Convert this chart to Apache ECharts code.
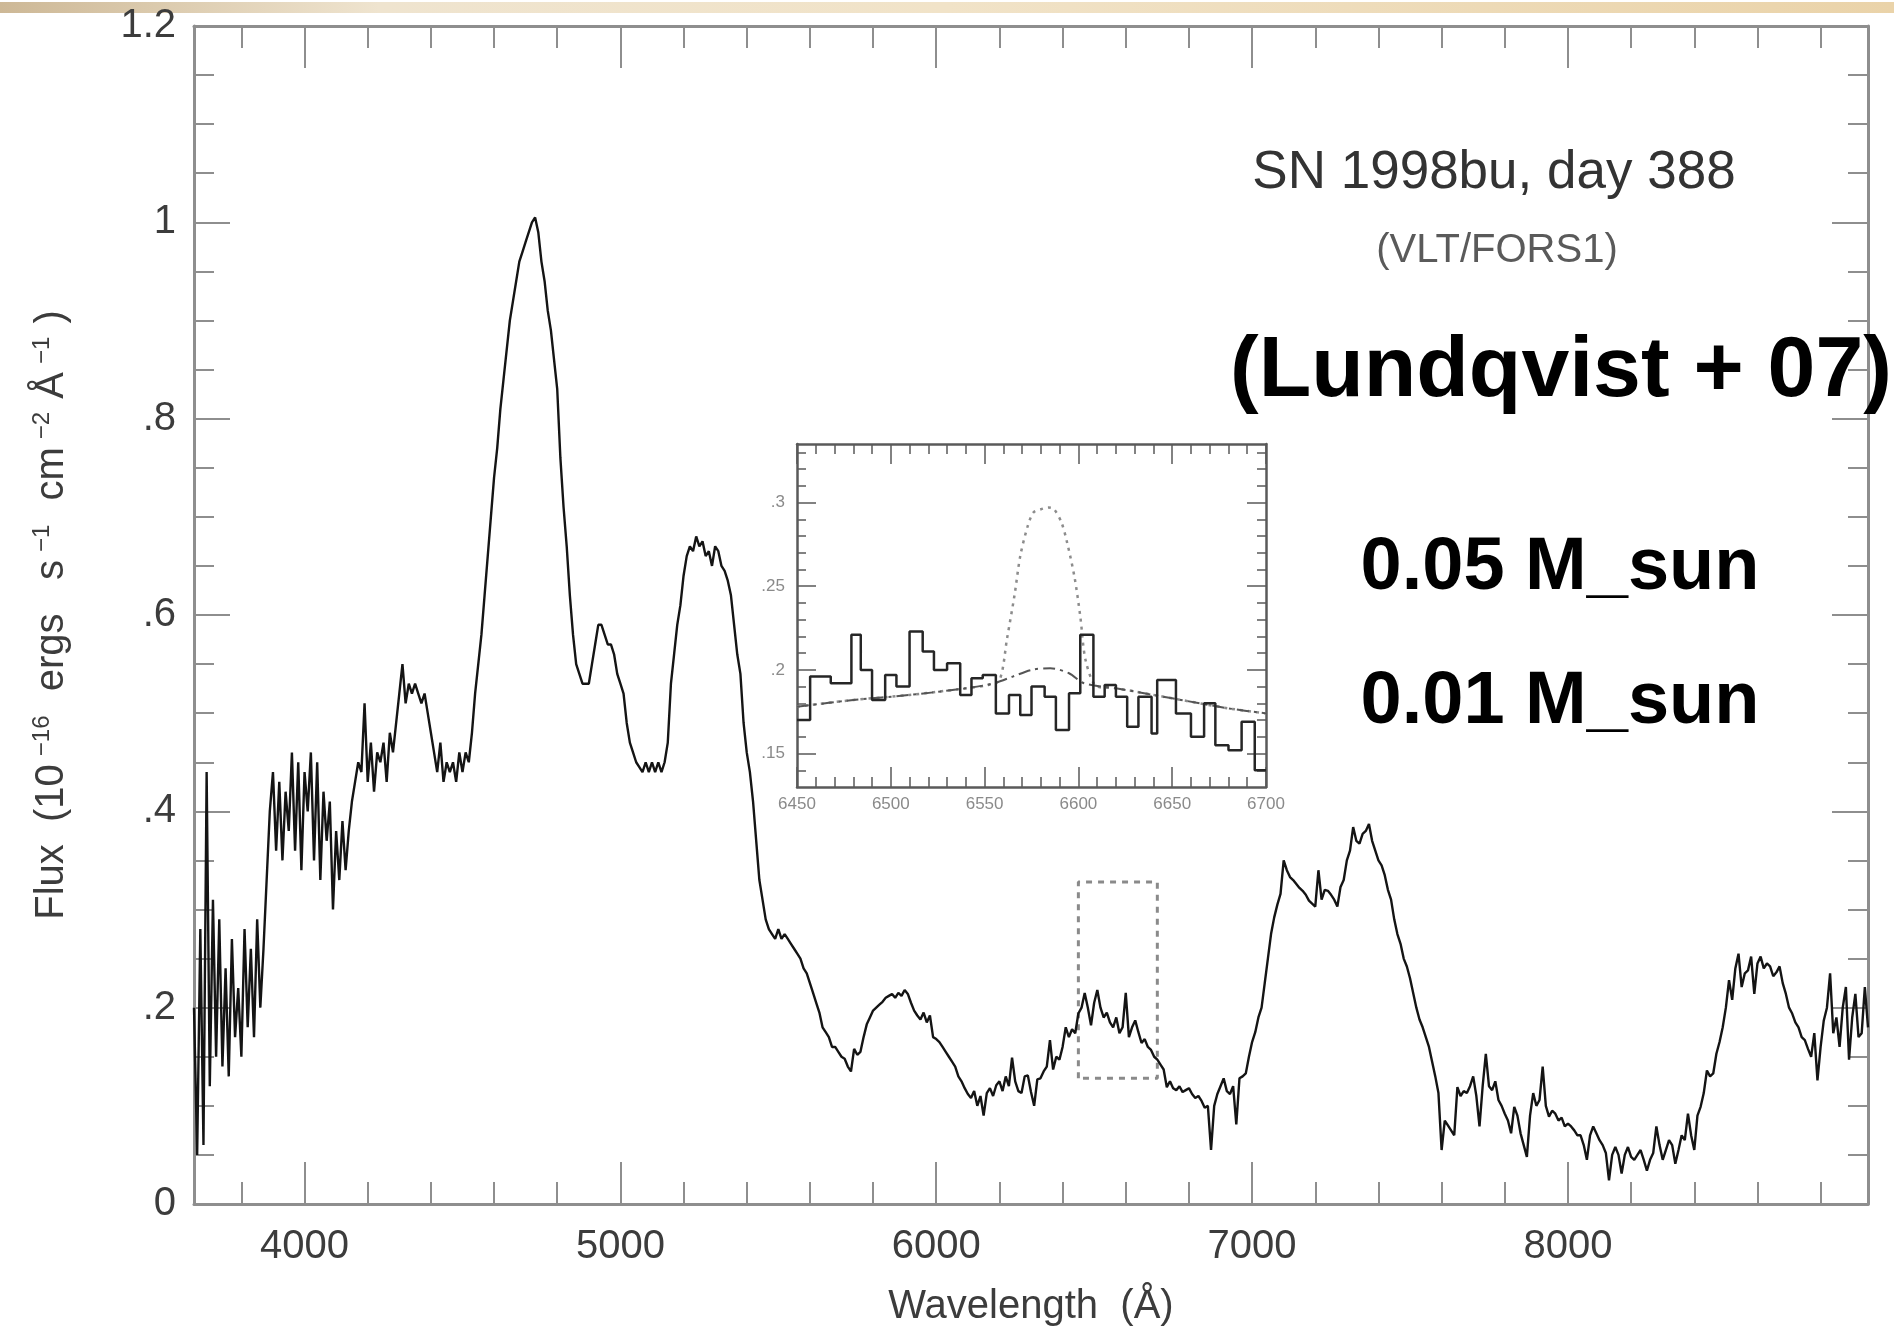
<!DOCTYPE html>
<html>
<head>
<meta charset="utf-8">
<title>SN 1998bu, day 388</title>
<script src="https://cdn.jsdelivr.net/npm/echarts@6/dist/echarts.min.js"></script>
<style>
  html, body { margin: 0; padding: 0; background: #ffffff; }
  #chart { width: 1894px; height: 1335px; }
</style>
</head>
<body>
<div id="chart"></div>
<script>
// Nebular spectrum of SN 1998bu, sampled every 10 Å from 3650 Å.
const WL_START = 3650;
const WL_STEP = 10;
const flux = [
  0.20, 0.05, 0.28, 0.06, 0.44, 0.12, 0.31, 0.15, 0.29, 0.14,      // 3650
  0.24, 0.13, 0.27, 0.17, 0.22, 0.15, 0.28, 0.18, 0.26, 0.17,      // 3750
  0.29, 0.20, 0.26, 0.33, 0.40, 0.44, 0.36, 0.43, 0.35, 0.42,      // 3850
  0.38, 0.46, 0.36, 0.45, 0.34, 0.44, 0.40, 0.46, 0.35, 0.45,      // 3950
  0.33, 0.42, 0.37, 0.41, 0.30, 0.38, 0.33, 0.39, 0.34, 0.38,      // 4050
  0.41, 0.43, 0.45, 0.44, 0.51, 0.43, 0.47, 0.42, 0.46, 0.45,      // 4150
  0.47, 0.43, 0.48, 0.46, 0.49, 0.52, 0.55, 0.51, 0.53, 0.52,      // 4250
  0.53, 0.52, 0.51, 0.52, 0.50, 0.48, 0.46, 0.44, 0.47, 0.43,      // 4350
  0.45, 0.44, 0.45, 0.43, 0.46, 0.44, 0.46, 0.45, 0.48, 0.52,      // 4450
  0.55, 0.58, 0.62, 0.66, 0.70, 0.74, 0.77, 0.81, 0.84, 0.87,      // 4550
  0.90, 0.92, 0.94, 0.96, 0.97, 0.98, 0.99, 1.00, 1.005, 0.99,     // 4650
  0.96, 0.94, 0.91, 0.89, 0.86, 0.83, 0.76, 0.71, 0.67, 0.62,      // 4750
  0.58, 0.55, 0.54, 0.53, 0.53, 0.53, 0.55, 0.57, 0.59, 0.59,      // 4850
  0.58, 0.57, 0.57, 0.56, 0.54, 0.53, 0.52, 0.49, 0.47, 0.46,      // 4950
  0.45, 0.445, 0.44, 0.45, 0.44, 0.45, 0.44, 0.45, 0.44, 0.45,     // 5050
  0.47, 0.53, 0.56, 0.59, 0.61, 0.64, 0.66, 0.67, 0.665, 0.68,     // 5150
  0.67, 0.675, 0.66, 0.665, 0.65, 0.67, 0.665, 0.65, 0.645, 0.635, // 5250
  0.62, 0.59, 0.56, 0.54, 0.49, 0.46, 0.44, 0.41, 0.37, 0.33,      // 5350
  0.31, 0.29, 0.28, 0.275, 0.27, 0.28, 0.27, 0.275, 0.27, 0.265,   // 5450
  0.26, 0.255, 0.25, 0.24, 0.235, 0.225, 0.215, 0.205, 0.195, 0.18, // 5550
  0.175, 0.17, 0.16, 0.16, 0.155, 0.15, 0.148, 0.14, 0.135, 0.158, // 5650
  0.152, 0.155, 0.17, 0.183, 0.19, 0.197, 0.20, 0.203, 0.206, 0.21, // 5750
  0.212, 0.214, 0.21, 0.215, 0.212, 0.218, 0.214, 0.205, 0.197, 0.192, // 5850
  0.188, 0.195, 0.185, 0.192, 0.17, 0.168, 0.165, 0.16, 0.155, 0.15,   // 5950
  0.145, 0.14, 0.13, 0.125, 0.118, 0.112, 0.108, 0.115, 0.10, 0.11,    // 6050
  0.09, 0.113, 0.118, 0.11, 0.121, 0.125, 0.115, 0.13, 0.12, 0.149,    // 6150
  0.125, 0.115, 0.113, 0.13, 0.131, 0.114, 0.10, 0.127, 0.128, 0.135,  // 6250
  0.14, 0.167, 0.137, 0.15, 0.147, 0.16, 0.18, 0.17, 0.178, 0.174,     // 6350
  0.194, 0.20, 0.215, 0.20, 0.182, 0.205, 0.218, 0.20, 0.19, 0.195,    // 6450
  0.185, 0.18, 0.19, 0.174, 0.18, 0.215, 0.17, 0.18, 0.187, 0.175,     // 6550
  0.164, 0.168, 0.16, 0.157, 0.15, 0.147, 0.142, 0.137, 0.119, 0.125, // 6650
  0.118, 0.116, 0.12, 0.114, 0.116, 0.118, 0.112, 0.108, 0.11, 0.105, // 6750
  0.098, 0.10, 0.055, 0.10, 0.112, 0.12, 0.128, 0.115, 0.112, 0.12,   // 6850
  0.081, 0.128, 0.13, 0.133, 0.15, 0.165, 0.175, 0.19, 0.20, 0.225,   // 6950
  0.25, 0.275, 0.292, 0.305, 0.316, 0.35, 0.34, 0.333, 0.33, 0.326,   // 7050
  0.322, 0.319, 0.315, 0.309, 0.306, 0.303, 0.34, 0.31, 0.32, 0.319,  // 7150
  0.315, 0.31, 0.303, 0.323, 0.33, 0.35, 0.36, 0.384, 0.37, 0.367,    // 7250
  0.377, 0.38, 0.387, 0.37, 0.36, 0.35, 0.345, 0.335, 0.32, 0.31,     // 7350
  0.29, 0.275, 0.265, 0.25, 0.242, 0.23, 0.215, 0.20, 0.188, 0.18,    // 7450
  0.17, 0.16, 0.145, 0.13, 0.113, 0.055, 0.085, 0.08, 0.075, 0.07,    // 7550
  0.119, 0.11, 0.115, 0.113, 0.12, 0.13, 0.11, 0.079, 0.12, 0.153,    // 7650
  0.12, 0.116, 0.125, 0.106, 0.10, 0.092, 0.085, 0.072, 0.099, 0.09,  // 7750
  0.072, 0.06, 0.048, 0.09, 0.113, 0.10, 0.106, 0.14, 0.10, 0.089,    // 7850
  0.095, 0.092, 0.085, 0.088, 0.079, 0.082, 0.079, 0.075, 0.07, 0.07, // 7950
  0.06, 0.045, 0.07, 0.079, 0.072, 0.065, 0.06, 0.052, 0.024, 0.05,   // 8050
  0.058, 0.05, 0.031, 0.05, 0.058, 0.048, 0.045, 0.05, 0.055, 0.045,  // 8150
  0.034, 0.045, 0.052, 0.079, 0.06, 0.045, 0.055, 0.065, 0.06, 0.041, // 8250
  0.055, 0.07, 0.065, 0.092, 0.07, 0.055, 0.09, 0.099, 0.113, 0.136,  // 8350
  0.13, 0.133, 0.153, 0.165, 0.18, 0.20, 0.228, 0.208, 0.24, 0.255,   // 8450
  0.221, 0.235, 0.238, 0.252, 0.214, 0.245, 0.252, 0.24, 0.245, 0.242, // 8550
  0.232, 0.236, 0.242, 0.225, 0.214, 0.20, 0.194, 0.185, 0.18, 0.17,  // 8650
  0.167, 0.158, 0.15, 0.174, 0.126, 0.16, 0.187, 0.20, 0.235, 0.174,  // 8750
  0.19, 0.16, 0.20, 0.221, 0.147, 0.19, 0.214, 0.17, 0.174, 0.221, 0.18 // 8850
];

// Region enlarged in the inset (dashed box on the main panel).
const boxWl = [6450, 6700];
const boxFlux = [0.128, 0.328];

// Inset: binned observed spectrum around H-alpha (bin edges and levels).
const insetEdges = [6450, 6457, 6468, 6479, 6484, 6490, 6497, 6503, 6510, 6517,
  6523, 6530, 6537, 6543, 6549, 6556, 6563, 6569, 6575, 6582, 6588, 6595, 6601,
  6608, 6614, 6620, 6626, 6632, 6639, 6642, 6652, 6660, 6667, 6673, 6680, 6687,
  6694, 6700];
const insetLevels = [0.170, 0.196, 0.192, 0.221, 0.200, 0.182, 0.197, 0.190,
  0.223, 0.211, 0.200, 0.204, 0.185, 0.195, 0.197, 0.174, 0.185, 0.173, 0.190,
  0.184, 0.164, 0.186, 0.221, 0.184, 0.191, 0.184, 0.166, 0.184, 0.162, 0.194,
  0.174, 0.160, 0.180, 0.155, 0.152, 0.169, 0.140];

// Model H-alpha profiles for 0.01 and 0.05 solar masses of hydrogen.
const modelLowWl = [6450, 6480, 6510, 6540, 6555, 6565, 6575, 6585, 6595, 6603, 6620, 6650, 6680, 6700];
const modelLow = [0.178, 0.182, 0.185, 0.189, 0.192, 0.196, 0.200, 0.201, 0.198, 0.192, 0.189, 0.183, 0.177, 0.174];
const modelHighWl = [6450, 6480, 6510, 6540, 6552, 6558, 6562, 6566, 6569, 6573, 6576, 6580,
  6584, 6587, 6591, 6594, 6598, 6601, 6604, 6610, 6620, 6650, 6680, 6700];
const modelHigh = [0.178, 0.182, 0.185, 0.189, 0.191, 0.194, 0.219, 0.245, 0.268, 0.286, 0.294, 0.296,
  0.297, 0.296, 0.288, 0.276, 0.255, 0.232, 0.205, 0.190, 0.189, 0.183, 0.177, 0.174];

// Tick positions.
const xMajorTicks = [4000, 5000, 6000, 7000, 8000];
const xMinorTicks = [3800, 4200, 4400, 4600, 4800, 5200, 5400, 5600, 5800, 6200, 6400,
  6600, 6800, 7200, 7400, 7600, 7800, 8200, 8400, 8600, 8800];
const insetYMajor = [0.15, 0.2, 0.25, 0.3];
const insetYMinor = [0.14, 0.16, 0.17, 0.18, 0.19, 0.21, 0.22, 0.23, 0.24, 0.26,
  0.27, 0.28, 0.29, 0.31, 0.32, 0.33];

const FONT = '"Liberation Sans", Arial, Helvetica, sans-serif';
const AXIS_GRAY = '#8e8e8e';
const INSET_GRAY = '#5a5a5a';
const TEXT_DARK = '#3c3c3c';

const spectrum = flux.map((f, i) => [WL_START + i * WL_STEP, f]);
const boxPath = [
  [boxWl[0], boxFlux[0]], [boxWl[0], boxFlux[1]], [boxWl[1], boxFlux[1]],
  [boxWl[1], boxFlux[0]], [boxWl[0], boxFlux[0]]
];
const histogram = insetLevels.map((v, i) => [insetEdges[i], v]);
histogram.push([insetEdges[insetEdges.length - 1], insetLevels[insetLevels.length - 1]]);

// Tick label formats: plain integers, and decimals without the leading zero.
const plainNumber = v => String(Math.round(v));
const noLeadZero = v => {
  if (v === 0) return '0';
  const s = String(+v.toFixed(3));
  return s.startsWith('0.') ? s.slice(1) : s;
};

function tickAxis(base, extra) {
  return Object.assign({
    type: 'value',
    splitLine: { show: false },
    minorSplitLine: { show: false },
    axisLabel: { show: false },
    axisLine: { show: false, onZero: false },
  }, base, extra);
}

const mainX = { gridIndex: 0, min: 3650, max: 8950 };
const mainY = { gridIndex: 0, min: 0, max: 1.2 };
const insetX = { gridIndex: 1, min: 6450, max: 6700 };
const insetY = { gridIndex: 1, min: 0.13, max: 0.335 };

const mainLine = { show: true, onZero: false, lineStyle: { color: AXIS_GRAY, width: 3 } };
const mainTick = (len, values) => ({ show: true, inside: true, length: len, customValues: values,
  lineStyle: { color: AXIS_GRAY, width: 2 } });
const insetLine = { show: true, onZero: false, lineStyle: { color: INSET_GRAY, width: 2.5 } };
const insetTickStyle = { color: INSET_GRAY, width: 1.5 };

const option = {
  animation: false,
  backgroundColor: '#ffffff',
  grid: [
    { left: 194, top: 26, width: 1674, height: 1178, containLabel: false },
    { left: 797, top: 444, width: 469, height: 343, containLabel: false,
      show: true, backgroundColor: '#ffffff', borderWidth: 0 }
  ],
  xAxis: [
    tickAxis(mainX, {
      position: 'bottom', axisLine: mainLine, axisTick: mainTick(42, xMajorTicks),
      axisLabel: { show: true, customValues: xMajorTicks, fontSize: 40, color: TEXT_DARK,
        fontFamily: FONT, margin: 23, formatter: plainNumber },
      name: 'Wavelength  (Å)', nameLocation: 'middle', nameGap: 83,
      nameTextStyle: { fontSize: 40, color: TEXT_DARK, fontFamily: FONT }
    }),
    tickAxis(mainX, { position: 'bottom', axisTick: mainTick(22, xMinorTicks) }),
    tickAxis(mainX, { position: 'top', axisLine: mainLine, axisTick: mainTick(42, xMajorTicks) }),
    tickAxis(mainX, { position: 'top', axisTick: mainTick(22, xMinorTicks) }),
    tickAxis(insetX, {
      position: 'bottom', interval: 50, axisLine: insetLine,
      axisTick: { show: true, inside: true, length: 20, lineStyle: insetTickStyle },
      minorTick: { show: true, splitNumber: 5, length: 10, lineStyle: insetTickStyle },
      axisLabel: { show: true, fontSize: 17, color: '#8a8a8a', fontFamily: FONT, margin: 9,
        formatter: plainNumber }
    }),
    tickAxis(insetX, {
      position: 'top', interval: 50, axisLine: insetLine,
      axisTick: { show: true, inside: true, length: 20, lineStyle: insetTickStyle },
      minorTick: { show: true, splitNumber: 5, length: 10, lineStyle: insetTickStyle }
    })
  ],
  yAxis: [
    tickAxis(mainY, {
      position: 'left', interval: 0.2, axisLine: mainLine,
      axisTick: { show: true, inside: true, length: 36, lineStyle: { color: AXIS_GRAY, width: 2 } },
      minorTick: { show: true, splitNumber: 4, length: 20, lineStyle: { color: AXIS_GRAY, width: 2 } },
      axisLabel: { show: true, fontSize: 40, color: TEXT_DARK, fontFamily: FONT, margin: 18,
        formatter: noLeadZero },
      name: '{t|Flux  (10}{s|−16}{t|  ergs   s}{s|−1}{t|  cm}{s|−2}{t| Å}{s|−1}{t| )}',
      nameLocation: 'middle', nameGap: 120,
      nameTextStyle: {
        fontSize: 40, color: TEXT_DARK, fontFamily: FONT,
        rich: {
          t: { fontSize: 40, color: TEXT_DARK, fontFamily: FONT, lineHeight: 44 },
          s: { fontSize: 24, color: TEXT_DARK, fontFamily: FONT, verticalAlign: 'top',
               lineHeight: 26, padding: [0, 2, 0, 8] }
        }
      }
    }),
    tickAxis(mainY, {
      position: 'right', interval: 0.2, axisLine: mainLine,
      axisTick: { show: true, inside: true, length: 36, lineStyle: { color: AXIS_GRAY, width: 2 } },
      minorTick: { show: true, splitNumber: 4, length: 20, lineStyle: { color: AXIS_GRAY, width: 2 } }
    }),
    tickAxis(insetY, {
      position: 'left', axisLine: insetLine,
      axisTick: { show: true, inside: true, length: 19, customValues: insetYMajor, lineStyle: insetTickStyle },
      axisLabel: { show: true, customValues: insetYMajor, fontSize: 17, color: '#8a8a8a',
        fontFamily: FONT, margin: 12, formatter: noLeadZero }
    }),
    tickAxis(insetY, {
      position: 'left',
      axisTick: { show: true, inside: true, length: 9, customValues: insetYMinor, lineStyle: insetTickStyle }
    }),
    tickAxis(insetY, {
      position: 'right', axisLine: insetLine,
      axisTick: { show: true, inside: true, length: 19, customValues: insetYMajor, lineStyle: insetTickStyle }
    }),
    tickAxis(insetY, {
      position: 'right',
      axisTick: { show: true, inside: true, length: 9, customValues: insetYMinor, lineStyle: insetTickStyle }
    })
  ],
  series: [
    {
      name: 'SN 1998bu', type: 'line', xAxisIndex: 0, yAxisIndex: 0,
      data: spectrum, showSymbol: false, symbol: 'none', clip: true,
      lineStyle: { color: '#141414', width: 2.4 }, z: 3
    },
    {
      name: 'zoom region', type: 'line', xAxisIndex: 0, yAxisIndex: 0,
      data: boxPath, showSymbol: false, symbol: 'none',
      lineStyle: { color: '#8a8a8a', width: 3, type: [6, 6] }, z: 2
    },
    {
      name: '0.05 M_sun', type: 'line', xAxisIndex: 4, yAxisIndex: 2,
      data: modelHighWl.map((w, i) => [w, modelHigh[i]]), showSymbol: false, symbol: 'none',
      smooth: 0.3, lineStyle: { color: '#8c8c8c', width: 2.5, type: [3, 5] }, z: 4
    },
    {
      name: '0.01 M_sun', type: 'line', xAxisIndex: 4, yAxisIndex: 2,
      data: modelLowWl.map((w, i) => [w, modelLow[i]]), showSymbol: false, symbol: 'none',
      smooth: 0.3, lineStyle: { color: '#555555', width: 2, type: [12, 5, 3, 5] }, z: 4
    },
    {
      name: 'binned spectrum', type: 'line', xAxisIndex: 4, yAxisIndex: 2,
      data: histogram, step: 'end', showSymbol: false, symbol: 'none',
      lineStyle: { color: '#262626', width: 2.5 }, z: 5
    }
  ],
  graphic: [
    {
      type: 'rect', left: 0, top: 2, z: 0, silent: true,
      shape: { width: 1894, height: 11 },
      style: {
        fill: {
          type: 'linear', x: 0, y: 0, x2: 1, y2: 0,
          colorStops: [
            { offset: 0, color: '#cdb896' },
            { offset: 0.2, color: '#efe4cf' },
            { offset: 0.5, color: '#f1e3c8' },
            { offset: 1, color: '#ead3a9' }
          ]
        }
      }
    },
    {
      type: 'text', x: 1494, y: 173, z: 10,
      style: { text: 'SN 1998bu, day 388', fontSize: 53, fontFamily: FONT, fill: '#333333',
        textAlign: 'center', textVerticalAlign: 'middle', align: 'center', verticalAlign: 'middle' }
    },
    {
      type: 'text', x: 1497, y: 251, z: 10,
      style: { text: '(VLT/FORS1)', fontSize: 40, fontFamily: FONT, fill: '#5a5a5a',
        textAlign: 'center', textVerticalAlign: 'middle', align: 'center', verticalAlign: 'middle' }
    },
    {
      type: 'text', x: 1561, y: 372, z: 10,
      style: { text: '(Lundqvist + 07)', fontSize: 86, fontWeight: 'bold', fontFamily: FONT, fill: '#000000',
        textAlign: 'center', textVerticalAlign: 'middle', align: 'center', verticalAlign: 'middle' }
    },
    {
      type: 'text', x: 1560, y: 569, z: 10,
      style: { text: '0.05 M_sun', fontSize: 74, fontWeight: 'bold', fontFamily: FONT, fill: '#000000',
        textAlign: 'center', textVerticalAlign: 'middle', align: 'center', verticalAlign: 'middle' }
    },
    {
      type: 'text', x: 1560, y: 703, z: 10,
      style: { text: '0.01 M_sun', fontSize: 74, fontWeight: 'bold', fontFamily: FONT, fill: '#000000',
        textAlign: 'center', textVerticalAlign: 'middle', align: 'center', verticalAlign: 'middle' }
    }
  ]
};

const chart = echarts.init(document.getElementById('chart'), null, { renderer: 'canvas' });
chart.setOption(option);
</script>
</body>
</html>
